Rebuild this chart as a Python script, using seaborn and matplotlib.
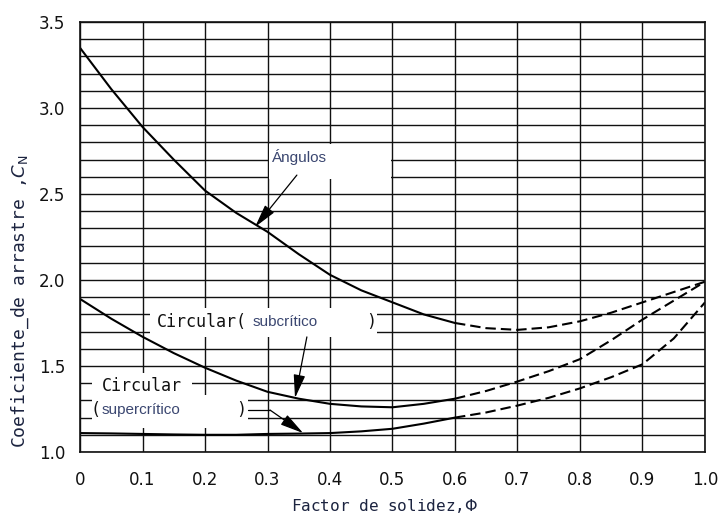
import pandas as pd
import matplotlib.pyplot as plt
import seaborn as sns
from matplotlib.patches import Rectangle

# valores (factor de solidez vs coeficiente de arrastre)
phi = [0.0, 0.05, 0.1, 0.15, 0.2, 0.25, 0.3, 0.35, 0.4, 0.45, 0.5,
       0.55, 0.6, 0.65, 0.7, 0.75, 0.8, 0.85, 0.9, 0.95, 1.0]
angulos = [3.35, 3.11, 2.89, 2.70, 2.52, 2.39, 2.28, 2.15, 2.03, 1.94, 1.87,
           1.80, 1.75, 1.72, 1.71, 1.725, 1.76, 1.81, 1.87, 1.93, 1.99]
circ_sub = [1.89, 1.775, 1.67, 1.575, 1.49, 1.415, 1.35, 1.31, 1.28, 1.265, 1.26,
            1.28, 1.31, 1.355, 1.41, 1.47, 1.54, 1.65, 1.77, 1.88, 1.99]
circ_super = [1.11, 1.108, 1.105, 1.102, 1.10, 1.10, 1.105, 1.107, 1.11, 1.12, 1.135,
              1.165, 1.20, 1.23, 1.27, 1.315, 1.37, 1.435, 1.51, 1.66, 1.87]
limite_solido = 0.6  # a partir de aqui la curva es discontinua

x_ticks = [0.0, 0.1, 0.2, 0.3, 0.4, 0.5, 0.6, 0.7, 0.8, 0.9, 1.0]
x_tick_labels = ["0", "0.1", "0.2", "0.3", "0.4", "0.5", "0.6", "0.7", "0.8", "0.9", "1.0"]
y_ticks = [1.0, 1.5, 2.0, 2.5, 3.0, 3.5]
y_tick_labels = ["1.0", "1.5", "2.0", "2.5", "3.0", "3.5"]
y_minor = [1.0 + i / 10 for i in range(26)]

filas = []
for nombre, valores in [("angulos", angulos), ("sub", circ_sub), ("super", circ_super)]:
    for p, v in zip(phi, valores):
        if p <= limite_solido:
            filas.append([p, v, nombre, "solido"])
        if p >= limite_solido:
            filas.append([p, v, nombre, "discontinuo"])
df = pd.DataFrame(filas, columns=["phi", "cn", "curva", "tramo"])

sns.set_theme(style="white")
plt.rcParams["font.family"] = ["DejaVu Sans"]

fig = plt.figure(figsize=(7.19, 5.19), dpi=100)
ax = fig.add_axes([80 / 719, 67 / 519, 625 / 719, 430 / 519])

sns.lineplot(data=df, x="phi", y="cn", hue="curva", style="tramo",
             palette=["black", "black", "black"],
             dashes={"solido": "", "discontinuo": (5, 2.4)},
             estimator=None, sort=True, lw=1.5, legend=False, ax=ax, zorder=2)

ax.set_xlim(0, 1.0)
ax.set_ylim(1.0, 3.5)
ax.set_xticks(x_ticks)
ax.set_xticklabels(x_tick_labels)
ax.set_yticks(y_ticks)
ax.set_yticklabels(y_tick_labels)
ax.set_yticks(y_minor, minor=True)
ax.set_axisbelow(True)
ax.grid(which="both", color="#111111", lw=1.0)
ax.tick_params(which="minor", length=0)
ax.tick_params(axis="x", which="major", length=5, width=1.0, direction="out",
               pad=9, labelsize=12, colors="#111111")
ax.tick_params(axis="y", which="major", length=5, width=1.0, direction="out",
               pad=5.5, labelsize=12, colors="#111111")
for s in ax.spines.values():
    s.set_color("#111111")
    s.set_linewidth(1.2)

# huecos blancos en la cuadricula detras de las etiquetas
for (x0, y0, w, h) in [(0.302, 2.585, 0.195, 0.205),
                       (0.112, 1.669, 0.363, 0.168),
                       (0.019, 1.331, 0.160, 0.128),
                       (0.019, 1.140, 0.250, 0.191)]:
    ax.add_patch(Rectangle((x0, y0), w, h, facecolor="white", edgecolor="none", zorder=1))

mono = "DejaVu Sans Mono"
azul = "#3a4670"
ax.text(0.307, 2.715, "Ángulos", family="Liberation Sans", fontsize=11, color=azul,
        va="center", ha="left", zorder=3)
ax.text(0.123, 1.756, "Circular(", family=mono, fontsize=12, color="#111111",
        va="center", ha="left", zorder=3)
ax.text(0.276, 1.756, "subcrítico", family="Liberation Sans", fontsize=11, color=azul,
        va="center", ha="left", zorder=3)
ax.text(0.458, 1.756, ")", family=mono, fontsize=12, color="#111111",
        va="center", ha="left", zorder=3)
ax.text(0.035, 1.384, "Circular", family=mono, fontsize=12, color="#111111",
        va="center", ha="left", zorder=3)
ax.text(0.016, 1.244, "(", family=mono, fontsize=12, color="#111111",
        va="center", ha="left", zorder=3)
ax.text(0.034, 1.244, "supercrítico", family="Liberation Sans", fontsize=11, color=azul,
        va="center", ha="left", zorder=3)
ax.text(0.250, 1.244, ")", family=mono, fontsize=12, color="#111111",
        va="center", ha="left", zorder=3)

flecha = dict(arrowstyle="-|>,head_length=1.2,head_width=0.3", color="black",
              lw=0.9, shrinkA=0, shrinkB=0)
ax.annotate("", xy=(0.280, 2.308), xytext=(0.347, 2.61), arrowprops=flecha, zorder=3)
ax.annotate("", xy=(0.344, 1.314), xytext=(0.363, 1.669), arrowprops=flecha, zorder=3)
ax.plot([0.269, 0.304], [1.244, 1.244], color="black", lw=0.9, zorder=3)
ax.annotate("", xy=(0.357, 1.11), xytext=(0.304, 1.244), arrowprops=flecha, zorder=3)

ax.set_xlabel("Factor de solidez,$\\mathit{\\Phi}$", family=mono, fontsize=11.5,
              color="#1c2440")
ax.xaxis.set_label_coords(0.488, -0.105)
ax.set_ylabel("Coeficiente_de arrastre ,$\\mathit{C}_\\mathrm{N}$", family=mono,
              fontsize=13, color="#1c2440")
ax.yaxis.set_label_coords(-0.078, 0.35)

fig.savefig("out.png", dpi=100)
